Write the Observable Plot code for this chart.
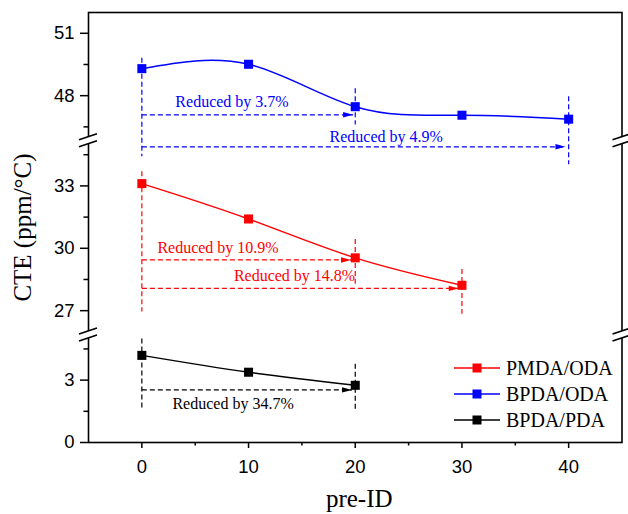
<!DOCTYPE html>
<html><head><meta charset="utf-8">
<script src="https://cdn.jsdelivr.net/npm/d3@7"></script>
<script src="https://cdn.jsdelivr.net/npm/@observablehq/plot@0.6"></script>
<style>
body{margin:0;background:#fff}
#wrap{position:relative;width:628px;height:514px}
.leg{position:absolute;left:454px;height:26px;display:flex;align-items:center;font:20px "Liberation Serif","Times New Roman",serif;white-space:nowrap}
.leg svg{margin-right:6px}
</style></head><body><div id="wrap"></div>
<script>
// ---- data ----
const seriesNames = ["PMDA/ODA", "BPDA/ODA", "BPDA/PDA"];
const seriesColors = ["#ff0000", "#0000ff", "#000000"];
const preIdPMDA = [0, 10, 20, 30];
const ctePMDA = [33.11, 31.41, 29.54, 28.22];
const preIdBPDAODA = [0, 10, 20, 30, 40];
const cteBPDAODA = [49.30, 49.51, 47.47, 47.06, 46.87];
const preIdBPDAPDA = [0, 10, 20];
const cteBPDAPDA = [4.19, 3.38, 2.75];

const xTicks = [0, 10, 20, 30, 40];
const xMinorTicks = [5, 15, 25, 35];
const yTicks = [0, 3, 27, 30, 33, 48, 51];
const yMinorTicks = [1.5, 4.5, 28.5, 31.5, 34.5, 46.5, 49.5];

// annotations (series index: 0 PMDA/ODA, 1 BPDA/ODA, 2 BPDA/PDA)
const annLabels = ["Reduced by 3.7%", "Reduced by 4.9%", "Reduced by 10.9%", "Reduced by 14.8%", "Reduced by 34.7%"];
const annSeries = [1, 1, 0, 0, 2];
const annX = [8.45, 22.9, 7.14, 14.31, 8.55];
const annY = [47.68, 46.0, 30.0, 28.65, 1.86];
const arrowFrom = [0, 0, 0, 0, 0];
const arrowTo = [19.8, 39.7, 19.6, 29.7, 19.7];
const arrowY = [47.08, 34.88, 29.44, 28.07, 2.53];

const guideSeries = [1, 1, 1, 0, 0, 0, 2, 2];
const guideX = [0, 20, 40, 0, 20, 30, 0, 20];
const guideTop = [49.82, 48.36, 47.97, 33.71, 30.45, 29.01, 5.0, 3.79];
const guideBottom = [34.43, 46.61, 34.04, 26.96, 28.29, 26.85, 1.54, 1.54];

// broken axis: segments [0,5], [26,35], [46,52]
const ySegments = [[0, 5], [26, 35], [46, 52]];
const yGap = 0.34; // gap between segments, in axis units
const yBreaks = [15.5, 40.5];
const xDomain = [-5, 45];

// piecewise compression of the y axis
function yFwd(v) {
  let u = 0;
  for (let k = 0; k < ySegments.length; k++) {
    const [a, b] = ySegments[k];
    if (v <= b || k === ySegments.length - 1) {
      if (v < a) { // inside the gap below this segment
        const [, pb] = ySegments[k - 1];
        return u - yGap + yGap * (v - pb) / (a - pb);
      }
      return u + (v - a);
    }
    u += (b - a) + yGap;
  }
  return u;
}
const yTotal = yFwd(ySegments[ySegments.length - 1][1]);
const yTickPos = yTicks.map(yFwd);
const yTickLabel = new Map(yTicks.map(t => [yFwd(t).toFixed(4), String(t)]));
const yMinorPos = yMinorTicks.map(yFwd);

// ---- build ----
const serif = '"Liberation Serif", "Times New Roman", serif';
const seriesX = [preIdPMDA, preIdBPDAODA, preIdBPDAPDA];
const seriesY = [ctePMDA, cteBPDAODA, cteBPDAPDA];
const idx = (arr, s, key) => d3.range(arr.length).filter(i => key[i] === s);

const arrowSym = {draw(ctx) { ctx.moveTo(0, 0); ctx.lineTo(-10, -2.7); ctx.lineTo(-10, 2.7); ctx.closePath(); }};

const marks = [Plot.frame({stroke: "black", strokeWidth: 1.6})];

seriesNames.forEach((name, s) => {
  const color = seriesColors[s];
  const rows = seriesX[s].map((x, i) => ({x, y: seriesY[s][i]}));
  const ai = idx(annLabels, s, annSeries);
  const gi = idx(guideX, s, guideSeries);
  marks.push(
    Plot.text(ai, {x: i => annX[i], y: i => annY[i], text: i => annLabels[i], fill: color,
      fontSize: 16, fontFamily: serif, lineAnchor: "middle"}),
    Plot.link(gi, {x1: i => guideX[i], x2: i => guideX[i], y1: i => guideTop[i], y2: i => guideBottom[i],
      stroke: color, strokeWidth: 1.2, strokeDasharray: "5,3"}),
    Plot.link(ai, {x1: i => arrowFrom[i], x2: i => arrowTo[i], y1: i => arrowY[i], y2: i => arrowY[i],
      stroke: color, strokeWidth: 1.2, strokeDasharray: "5,3"}),
    Plot.dot(ai, {x: i => arrowTo[i], y: i => arrowY[i], symbol: arrowSym, fill: color, stroke: "none"}),
    Plot.line(rows, {x: "x", y: "y", stroke: color, strokeWidth: 1.5, curve: "natural"}),
    Plot.dot(rows, {x: "x", y: "y", symbol: "square", r: 5.1, fill: color, stroke: "none"})
  );
});

marks.push(
  Plot.axisX({ticks: xTicks, tickSize: 6, tickPadding: 11, fontSize: 18.5, strokeWidth: 1.5, label: null, tickFormat: d => String(d)}),
  Plot.axisX({ticks: xMinorTicks, tickSize: 3.5, strokeWidth: 1.5, label: null, tickFormat: () => ""}),
  Plot.axisY({ticks: yTickPos, tickSize: 8, tickPadding: 6, fontSize: 18.5, strokeWidth: 1.5, label: null,
    tickFormat: u => yTickLabel.get((+u).toFixed(4)) ?? ""}),
  Plot.axisY({ticks: yMinorPos, tickSize: 4.5, strokeWidth: 1.5, label: null, tickFormat: () => ""}),
  Plot.text(["CTE (ppm/°C)"], {frameAnchor: "left", textAnchor: "middle", dx: -66, rotate: -90, fontSize: 25, fontFamily: serif, fill: "black"}),
  Plot.text(["pre-ID"], {frameAnchor: "bottom", textAnchor: "middle", dx: 4, dy: 64, lineAnchor: "bottom", fontSize: 25, fontFamily: serif, fill: "black"}),
  (index, scales) => {
    const g = d3.create("svg:g");
    for (const yb of yBreaks) {
      const c = scales.y(yFwd(yb));
      for (const xv of xDomain) {
        const x = scales.x(xv);
        g.append("path")
          .attr("d", `M${x - 9},${c - 0.5}L${x + 9},${c - 6.5}L${x + 9},${c + 0.5}L${x - 9},${c + 6.5}Z`)
          .attr("fill", "white");
        g.append("path")
          .attr("d", `M${x - 9},${c - 0.5}L${x + 9},${c - 6.5}M${x - 9},${c + 6.5}L${x + 9},${c + 0.5}`)
          .attr("stroke", "black").attr("stroke-width", 1.6).attr("fill", "none");
      }
    }
    return g.node();
  }
);

const chart = Plot.plot({
  width: 628,
  height: 514,
  marginLeft: 88,
  marginRight: 6.5,
  marginTop: 12,
  marginBottom: 72,
  x: {domain: xDomain},
  y: {domain: [0, yTotal], transform: yFwd},
  style: {fontFamily: '"Liberation Sans", Arial, sans-serif', fontSize: "17px", background: "white", color: "black", overflow: "visible"},
  marks
});

const wrap = document.getElementById("wrap");
wrap.appendChild(chart);

// legend inside plot area
const legendTops = [355, 381, 407];
seriesNames.forEach((name, s) => {
  const row = document.createElement("div");
  row.className = "leg";
  row.style.top = legendTops[s] + "px";
  const c = seriesColors[s];
  row.innerHTML = `<svg width="46" height="12"><line x1="0" y1="6" x2="46" y2="6" stroke="${c}" stroke-width="1.6"/><rect x="18.5" y="1.5" width="9" height="9" fill="${c}"/></svg><span>${name}</span>`;
  wrap.appendChild(row);
});
</script></body></html>
